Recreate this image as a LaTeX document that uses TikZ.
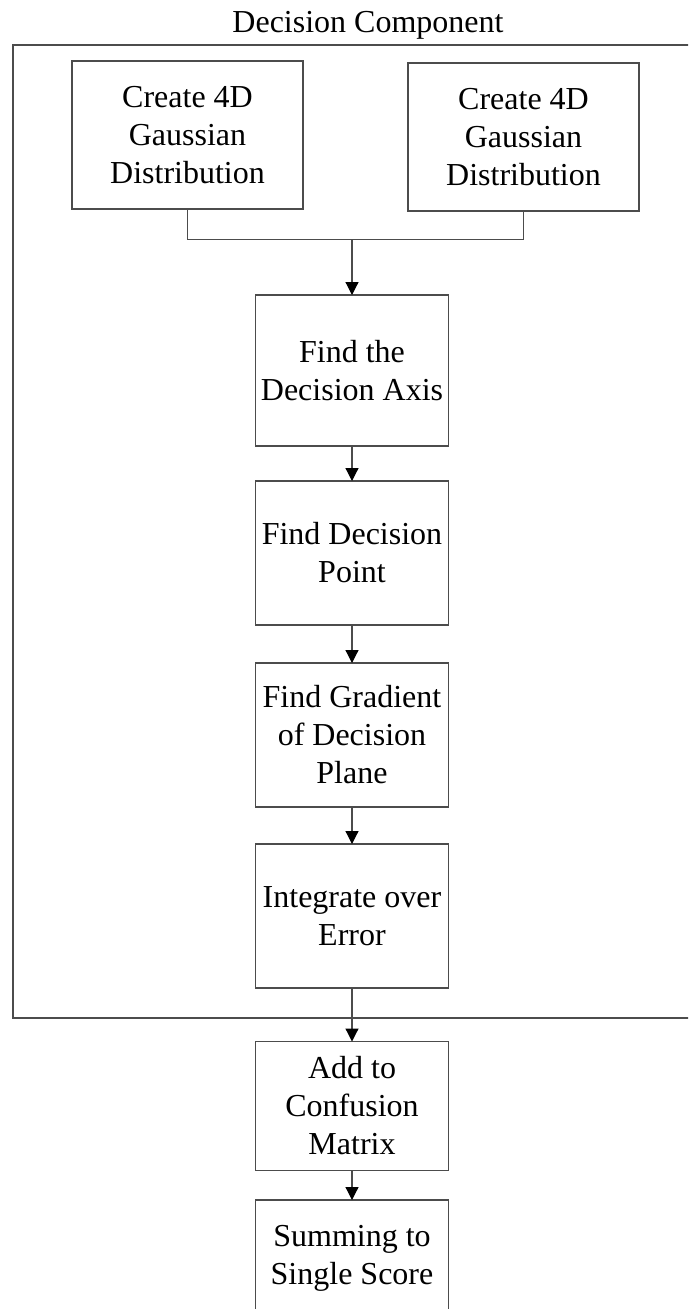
\documentclass[tikz,border=0pt]{standalone}
\usepackage{fontspec}
\setmainfont{Liberation Serif}
\usetikzlibrary{arrows.meta}
\begin{document}
\begin{tikzpicture}[x=1pt,y=-1pt,
  line width=1pt,
  boxstyle/.style={draw=black!70, line width=1.2pt, fill=white, inner sep=0pt, outer sep=0pt,
    align=center, font=\fontsize{32}{38}\selectfont},
  conn/.style={draw=black!70, line width=1.2pt},
  arr/.style={conn, -{Triangle[width=13pt,length=13pt,fill=black,color=black]}}
]
\clip (0,0) rectangle (688,1309);
\useasboundingbox (0,0) rectangle (688,1309);
% outer component
\node[font=\fontsize{32}{38}\selectfont, anchor=base] (title) at (368,32) {Decision Component};
\draw[conn] (700,45) -- (13,45) -- (13,1018) -- (700,1018);
% boxes
\node[boxstyle, minimum width=231pt, minimum height=148pt] (g1) at (187.5,135) {Create 4D\\Gaussian\\Distribution};
\node[boxstyle, minimum width=231pt, minimum height=148pt] (g2) at (523.5,137) {Create 4D\\Gaussian\\Distribution};
\node[boxstyle, minimum width=193pt, minimum height=151pt] (axis) at (352,370.5) {Find the\\Decision Axis};
\node[boxstyle, minimum width=193pt, minimum height=144pt] (point) at (352,553) {Find Decision\\Point};
\node[boxstyle, minimum width=193pt, minimum height=144pt] (grad) at (352,735) {Find Gradient\\of Decision\\Plane};
\node[boxstyle, minimum width=193pt, minimum height=144pt] (integ) at (352,916) {Integrate over\\Error};
\node[boxstyle, minimum width=193pt, minimum height=129pt] (conf) at (352,1106) {Add to\\Confusion\\Matrix};
\node[boxstyle, minimum width=193pt, minimum height=117pt] (sum) at (352,1258.5) {Summing to\\Single Score};
% connectors
\coordinate (j) at (352,239.7);
\draw[conn] (g1.south) -- (g1.south |- j) -- (g2.south |- j) -- (g2.south);
\draw[arr] (j) -- (axis.north);
\draw[arr] (axis) -- (point);
\draw[arr] (point) -- (grad);
\draw[arr] (grad) -- (integ);
\draw[arr] (integ) -- (conf);
\draw[arr] (conf) -- (sum);
\end{tikzpicture}
\end{document}
